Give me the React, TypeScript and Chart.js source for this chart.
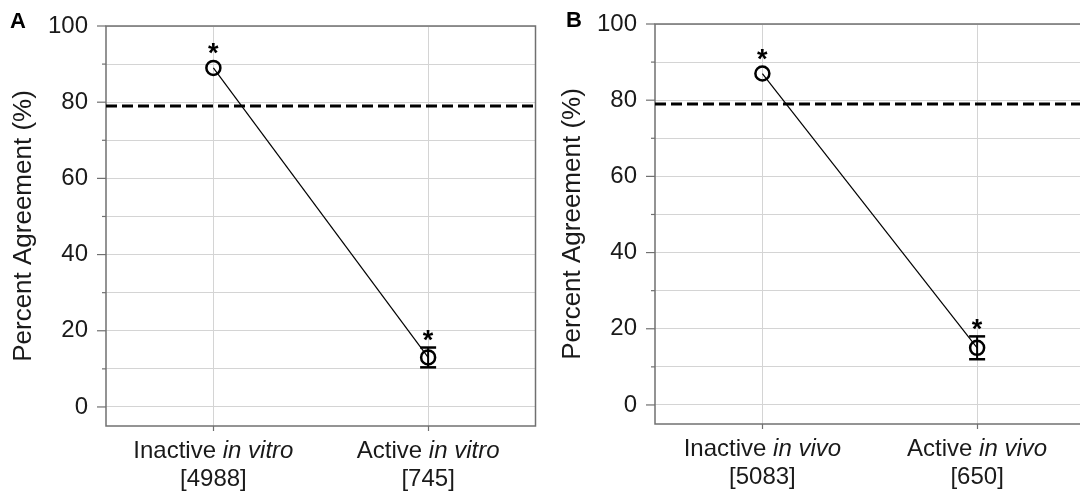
import React, { useEffect, useRef } from "react";
import { Chart, registerables } from "chart.js";
Chart.register(...registerables);

// ---- Data ----
const categoryNamesA = ["Inactive", "Active"];
const categoryItalicA = "in vitro";
const categoryCountsA = ["[4988]", "[745]"];
const valuesA = [89, 13];
const errorsA = [0, 2.6];
const referenceA = 79;

const categoryNamesB = ["Inactive", "Active"];
const categoryItalicB = "in vivo";
const categoryCountsB = ["[5083]", "[650]"];
const valuesB = [87, 15];
const errorsB = [0, 3.0];
const referenceB = 79;

const significantMarks = ["*", "*"];
const yTickValues = [0, 10, 20, 30, 40, 50, 60, 70, 80, 90, 100];
const yLabelStep = 20;
const yMin = -5;
const yMax = 100;
const yTitle = "Percent Agreement (%)";

const FONT = "'Liberation Sans', Arial, Helvetica, sans-serif";
const TEXT = "#1a1a1a";
const GRID = "#d4d4d4";
const FRAME = "#707070";

type PanelProps = {
  letter: string;
  letterX: number;
  letterBaseline: number;
  names: string[];
  italic: string;
  counts: string[];
  values: number[];
  errors: number[];
  reference: number;
  left: number;
  padTop: number;
  xAxisHeight: number;
};

function Panel(p: PanelProps) {
  const ref = useRef<HTMLCanvasElement | null>(null);
  useEffect(() => {
    if (!ref.current) return;
    const line = (ctx: CanvasRenderingContext2D, x1: number, y1: number, x2: number, y2: number) => {
      ctx.beginPath();
      ctx.moveTo(x1, y1);
      ctx.lineTo(x2, y2);
      ctx.stroke();
    };
    const decor = {
      id: "panelDecor",
      beforeDatasetsDraw(chart: any) {
        const { ctx, chartArea: a, scales } = chart;
        const y = scales.y;
        ctx.save();
        ctx.strokeStyle = FRAME;
        ctx.lineWidth = 1.5;
        ctx.strokeRect(a.left, a.top, a.right - a.left, a.bottom - a.top);
        ctx.lineWidth = 1.2;
        for (const v of yTickValues) {
          const py = y.getPixelForValue(v);
          const len = v % yLabelStep === 0 ? 9 : 4;
          line(ctx, a.left - len, py, a.left, py);
        }
        ctx.strokeStyle = "#000";
        ctx.lineWidth = 3;
        ctx.setLineDash([11, 5]);
        const ry = y.getPixelForValue(p.reference);
        line(ctx, a.left, ry, a.right, ry);
        ctx.restore();
      },
      afterDatasetsDraw(chart: any) {
        const { ctx, scales } = chart;
        const x = scales.x, y = scales.y;
        ctx.save();
        ctx.strokeStyle = "#000";
        p.values.forEach((v, i) => {
          const px = x.getPixelForValue(i);
          const pc = y.getPixelForValue(v);
          const top = y.getPixelForValue(v + p.errors[i]);
          const bot = y.getPixelForValue(v - p.errors[i]);
          if (p.errors[i] > 0) {
            ctx.lineWidth = 2;
            line(ctx, px, top, px, bot);
            ctx.lineWidth = 2.5;
            line(ctx, px - 8, top, px + 8, top);
            line(ctx, px - 8, bot, px + 8, bot);
          }
          const mark = significantMarks[i];
          if (mark) {
            const glyphCenter = Math.min(top, pc - 7) - 14;
            ctx.fillStyle = "#000";
            ctx.font = `bold 27px ${FONT}`;
            ctx.textAlign = "center";
            ctx.textBaseline = "alphabetic";
            ctx.fillText(mark, px, glyphCenter + 15.5);
          }
        });
        ctx.restore();
      },
      afterDraw(chart: any) {
        const { ctx, chartArea: a, scales } = chart;
        const x = scales.x;
        ctx.save();
        ctx.fillStyle = TEXT;
        ctx.textBaseline = "middle";
        const normal = `24px ${FONT}`;
        const ital = `italic 24px ${FONT}`;
        p.names.forEach((name, i) => {
          const px = x.getPixelForValue(i);
          ctx.font = normal;
          const first = name + " ";
          const w1 = ctx.measureText(first).width;
          ctx.font = ital;
          const w2 = ctx.measureText(p.italic).width;
          const start = px - (w1 + w2) / 2;
          const y1 = a.bottom + 25;
          ctx.textAlign = "left";
          ctx.font = normal;
          ctx.fillText(first, start, y1);
          ctx.font = ital;
          ctx.fillText(p.italic, start + w1, y1);
          ctx.font = normal;
          ctx.textAlign = "center";
          ctx.fillText(p.counts[i], px, a.bottom + 53);
        });
        ctx.font = `bold 22px ${FONT}`;
        ctx.textAlign = "left";
        ctx.textBaseline = "alphabetic";
        ctx.fillStyle = "#000";
        ctx.fillText(p.letter, p.letterX, p.letterBaseline);
        ctx.restore();
      },
    };

    const chart = new Chart(ref.current, {
      type: "line",
      data: {
        labels: p.names,
        datasets: [
          {
            data: p.values,
            borderColor: "#000",
            borderWidth: 1.2,
            pointRadius: 7,
            pointBorderWidth: 2.5,
            pointBorderColor: "#000",
            pointBackgroundColor: "rgba(0,0,0,0)",
            tension: 0,
            fill: false,
            clip: false,
          },
        ],
      },
      options: {
        animation: false,
        responsive: false,
        events: [],
        layout: { padding: { left: 0, top: p.padTop, right: 6, bottom: 0 } },
        plugins: { legend: { display: false }, tooltip: { enabled: false } },
        scales: {
          x: {
            type: "category",
            offset: true,
            grid: { offset: false, color: GRID, lineWidth: 1, drawTicks: true, tickLength: 5, tickColor: FRAME, tickWidth: 1.2 },
            border: { display: false },
            ticks: { display: false },
            afterFit: (s: any) => { s.height = p.xAxisHeight; s.paddingLeft = 0; s.paddingRight = 0; },
          },
          y: {
            type: "linear",
            min: yMin,
            max: yMax,
            afterBuildTicks: (s: any) => { s.ticks = yTickValues.map((v) => ({ value: v })); },
            afterFit: (s: any) => { s.width = 106; s.paddingTop = 0; s.paddingBottom = 0; },
            grid: { color: GRID, lineWidth: 1, drawTicks: false },
            border: { display: false },
            ticks: {
              autoSkip: false,
              padding: 18,
              color: TEXT,
              font: { family: FONT, size: 24 },
              callback: (v: any) => (Number(v) % yLabelStep === 0 ? String(v) : ""),
            },
            title: {
              display: true,
              text: yTitle,
              color: TEXT,
              font: { family: FONT, size: 26 },
              padding: { top: 8, bottom: 0 },
            },
          },
        },
      },
      plugins: [decor],
    } as any);
    return () => chart.destroy();
  }, []);
  return (
    <canvas
      ref={ref}
      width={545}
      height={494}
      style={{ position: "absolute", left: p.left, top: 0, width: 545, height: 494 }}
    />
  );
}

export default function App() {
  return (
    <div style={{ position: "fixed", left: 0, top: 0, width: 1080, height: 494, overflow: "hidden", background: "#fff" }}>
      <Panel
        letter="A" letterX={10} letterBaseline={28}
        names={categoryNamesA} italic={categoryItalicA} counts={categoryCountsA}
        values={valuesA} errors={errorsA} reference={referenceA}
        left={0} padTop={26} xAxisHeight={68}
      />
      <Panel
        letter="B" letterX={17} letterBaseline={27}
        names={categoryNamesB} italic={categoryItalicB} counts={categoryCountsB}
        values={valuesB} errors={errorsB} reference={referenceB}
        left={549} padTop={24} xAxisHeight={70}
      />
    </div>
  );
}
